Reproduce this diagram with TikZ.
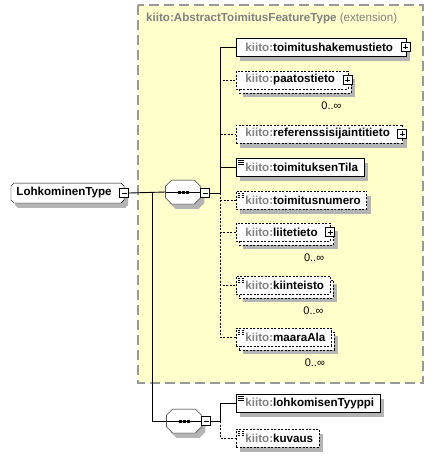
\documentclass[tikz,border=0pt]{standalone}
\usepackage{fontspec}
\setmainfont{Liberation Sans}
\usetikzlibrary{shadows}
\definecolor{pfxgray}{HTML}{808080}
\definecolor{extyellow}{HTML}{FFFFCC}
\definecolor{extborder}{HTML}{999999}
\definecolor{shadowgray}{HTML}{B4B4B4}
\newcommand{\pfx}{\textcolor{pfxgray}{kiito:}}
\newcommand{\octpath}[2]{([xshift=#2]#1.north west) -- ([xshift=-#2]#1.north east)
    -- ([yshift=-#2]#1.north east) -- ([yshift=#2]#1.south east) -- ([xshift=-#2]#1.south east)
    -- ([xshift=#2]#1.south west) -- ([yshift=#2]#1.south west) -- ([yshift=-#2]#1.north west) -- cycle}
\pgfdeclarelayer{background layer}
\pgfsetlayers{background layer,main}

\tikzset{
    boxshadow/.style={drop shadow={shadow xshift=4pt,shadow yshift=-5pt,fill=shadowgray,opacity=1}},
    multishadow/.style={
        drop shadow={shadow xshift=7pt,shadow yshift=-8pt,fill=shadowgray,opacity=1},
        copy shadow={shadow xshift=3pt,shadow yshift=-4pt,draw=black,fill=white,dash pattern=on 2pt off 1.5pt}},
    elem/.style={rectangle,draw=black,fill=white,anchor=west,minimum height=18pt,
        inner xsep=0pt,inner ysep=0pt,execute at begin node={\hspace*{9pt}}},
    withplus/.style={execute at end node={\hspace*{13pt}}},
    noplus/.style={execute at end node={\hspace*{6pt}}},
    optline/.style={dash pattern=on 2pt off 1.5pt},
    simple/.style={path picture={
        \foreach \k in {2,4,6}
            \draw[line width=0.6pt] ([xshift=2pt,yshift=-\k pt]path picture bounding box.north west) -- ++(6pt,0);}},
    pmbox/.style={rectangle,draw=black,fill=white,minimum size=9pt,inner sep=0pt,line width=0.8pt},
    plusbox/.style={pmbox,path picture={
        \draw ([xshift=2pt]path picture bounding box.west) -- ([xshift=-2pt]path picture bounding box.east);
        \draw ([yshift=-2pt]path picture bounding box.north) -- ([yshift=2pt]path picture bounding box.south);}},
    minusbox/.style={pmbox,path picture={
        \draw ([xshift=2pt]path picture bounding box.west) -- ([xshift=-2pt]path picture bounding box.east);}},
    seqbox/.style={rectangle,minimum width=34pt,minimum height=23pt,inner sep=0pt},
    occ/.style={font=\fontsize{11}{13}\selectfont},
}

\begin{document}
\begin{tikzpicture}[x=1pt,y=-1pt,line width=0.9pt,font=\fontsize{11.6}{14}\selectfont\bfseries]
    \useasboundingbox (0,0) rectangle (442,457);

    % complex type and sequences
    \node[rectangle,anchor=west,minimum height=19pt,inner xsep=0pt,inner ysep=0pt] (lt) at (11,193)
        {\hspace*{5pt}LohkominenType\hspace*{12pt}};
    \node[minusbox] (lt-m) at (lt.east) {};
    \node[seqbox] (seq1) at (183,192) {};
    \node[minusbox] (seq1-m) at (205,193) {};
    \node[seqbox] (seq2) at (184,421) {};
    \node[minusbox] (seq2-m) at (206,421) {};

    % elements of the first sequence
    \node[elem,boxshadow,withplus] (th) at (236,47) {\pfx toimitushakemustieto};
    \node[elem,optline,multishadow,withplus] (pa) at (236,80) {\pfx paatostieto};
    \node[elem,optline,boxshadow,withplus] (rf) at (236,134) {\pfx referenssisijaintitieto};
    \node[elem,simple,boxshadow,noplus] (tt) at (236,167) {\pfx toimituksenTila};
    \node[elem,simple,optline,boxshadow,noplus] (tn) at (236,200) {\pfx toimitusnumero};
    \node[elem,optline,multishadow,withplus] (li) at (236,232) {\pfx liitetieto};
    \node[elem,simple,optline,multishadow,noplus] (ki) at (236,285) {\pfx kiinteisto};
    \node[elem,simple,optline,multishadow,noplus] (ma) at (236,337) {\pfx maaraAla};

    % elements of the second sequence
    \node[elem,simple,boxshadow,noplus] (ly) at (236,403) {\pfx lohkomisenTyyppi};
    \node[elem,simple,optline,boxshadow,noplus] (ku) at (236,438) {\pfx kuvaus};

    \node[plusbox] (th-p) at ([xshift=-1pt]th.east) {};
    \node[plusbox] (pa-p) at ([xshift=-1pt]pa.east) {};
    \node[plusbox] (rf-p) at ([xshift=-1pt]rf.east) {};
    \node[plusbox] (li-p) at ([xshift=-1pt]li.east) {};

    \node[occ] (pa-o) at ([xshift=-17pt,yshift=-16pt]pa.south east) {0..∞};
    \node[occ] (li-o) at ([xshift=-17pt,yshift=-16pt]li.south east) {0..∞};
    \node[occ] (ki-o) at ([xshift=-17pt,yshift=-16pt]ki.south east) {0..∞};
    \node[occ] (ma-o) at ([xshift=-17pt,yshift=-16pt]ma.south east) {0..∞};

    % connectors
    \coordinate (br) at (152,193);
    \coordinate (j1) at (220,193);
    \coordinate (j2) at (220,421);
    \draw (lt-m.east) -- (seq1.west);
    \draw (br) |- (seq2.west);
    \draw (seq1-m.east) -- (j1);
    \draw (seq2-m.east) -- (j2);
    \foreach \n in {pa,rf,tn,li,ki,ma}
        \draw[optline] (j1) |- (\n.west);
    \foreach \n in {th,tt}
        \draw (j1) |- (\n.west);
    \draw[optline] (j2) |- (ku.west);
    \draw (j2) |- (ly.west);

\begin{pgfonlayer}{background layer}
    \draw[extborder,fill=extyellow,line width=1.2pt,dash pattern=on 10pt off 5pt] (138,5) rectangle (423,383);
    \node[anchor=west,inner sep=0pt,text=pfxgray] (ext) at (146,19)
        {kiito:AbstractToimitusFeatureType \mdseries(extension)};
    \draw[fill=white,boxshadow] \octpath{lt}{3pt};
    \draw[fill=white,boxshadow] \octpath{seq1}{6pt};
    \draw[fill=white,boxshadow] \octpath{seq2}{6pt};
    \draw[line width=1pt] (seq1.west) -- (seq1.east);
    \draw[line width=1pt] (seq2.west) -- (seq2.east);
    \foreach \s in {seq1,seq2}
        \foreach \d in {-4,0,4}
            \fill ([xshift=\d pt]\s.center) ++(-1.5pt,-1.5pt) rectangle ++(3pt,3pt);
\end{pgfonlayer}
\end{tikzpicture}
\end{document}
